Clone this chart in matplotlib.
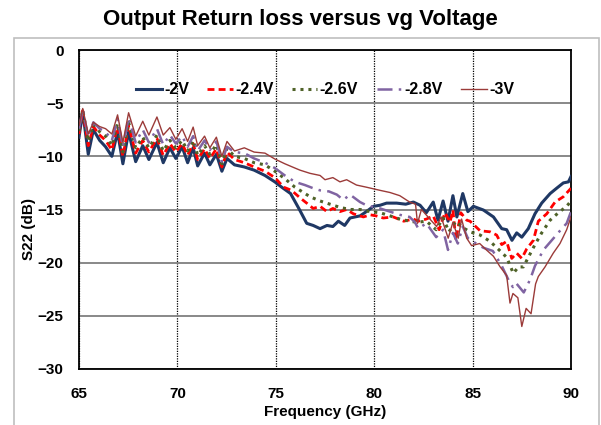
import matplotlib
matplotlib.use("Agg")
import matplotlib.pyplot as plt
from matplotlib.patches import Rectangle

plt.rcParams['font.family'] = ['Liberation Sans', 'DejaVu Sans']
plt.rcParams['font.weight'] = 'bold'

# shared grid for the ripple region 65-75 GHz
f_lo = [65.0, 65.19, 65.47, 65.73, 66.05, 66.35, 66.67, 66.96, 67.23, 67.52,
        67.88, 68.24, 68.55, 68.96, 69.28, 69.62, 69.92, 70.24, 70.52, 70.8,
        71.03, 71.38, 71.65, 71.98, 72.26, 72.52, 72.9, 73.4, 73.9, 74.45, 74.95]

v2_lo = [-8.2, -5.8, -9.8, -7.5, -8.5, -9.1, -10.0, -7.7, -10.7, -7.7,
         -10.5, -9.0, -10.3, -8.7, -10.6, -9.2, -10.2, -9.1, -10.6, -9.2,
         -10.9, -9.7, -10.8, -9.8, -11.4, -10.2, -10.8, -11.0, -11.3, -11.8, -12.4]
v24_lo = [-7.9, -5.7, -9.0, -7.2, -8.0, -8.5, -9.4, -7.2, -10.0, -7.1,
          -9.7, -8.5, -9.6, -8.3, -9.9, -8.8, -9.6, -8.8, -9.9, -8.8,
          -10.3, -9.3, -10.2, -9.3, -11.0, -9.6, -10.3, -10.6, -11.0, -11.4, -12.0]
v26_lo = [-7.6, -5.6, -8.6, -7.0, -7.7, -8.1, -9.0, -6.9, -9.6, -6.8,
          -9.2, -8.2, -9.2, -8.0, -9.5, -8.5, -9.2, -8.5, -9.5, -8.5,
          -9.9, -9.0, -9.8, -8.9, -10.7, -9.25, -10.0, -10.2, -10.6, -10.8, -11.4]
v28_lo = [-7.4, -5.6, -8.2, -6.8, -7.4, -7.7, -8.5, -6.5, -9.1, -6.4,
          -8.7, -7.5, -8.7, -7.4, -8.9, -8.0, -8.8, -8.1, -9.1, -8.1,
          -9.5, -8.5, -9.4, -8.6, -10.5, -9.1, -9.6, -9.7, -10.2, -10.6, -11.1]
v3_lo = [-7.1, -5.5, -7.9, -6.8, -7.2, -7.4, -7.9, -6.1, -8.7, -5.9,
         -8.1, -6.7, -8.0, -6.3, -8.0, -7.3, -8.4, -7.4, -8.6, -7.25,
         -9.0, -8.1, -9.2, -8.2, -10.0, -8.6, -9.5, -9.2, -9.6, -9.7, -10.25]

# 75-90 GHz, each trace read separately
f2_hi = [75.3, 75.75, 76.2, 76.57, 76.9, 77.25, 77.6, 77.9, 78.18, 78.5,
         78.77, 79.28, 79.6, 79.96, 80.3, 80.63, 81.14, 81.6, 81.99, 82.33,
         82.65, 83.0, 83.24, 83.5, 83.75, 84.0, 84.2, 84.5, 84.76, 85.04,
         85.55, 86.06, 86.48, 86.73, 87.0, 87.24, 87.5, 87.83, 88.17, 88.51,
         88.94, 89.27, 89.61, 89.87, 90.0]
v2_hi = [-12.9, -13.5, -15.0, -16.3, -16.5, -16.8, -16.5, -16.6, -16.1, -16.5,
         -15.8, -15.6, -15.2, -14.7, -14.6, -14.4, -14.4, -14.5, -14.3, -14.6,
         -15.3, -14.3, -16.0, -14.2, -16.1, -13.7, -15.7, -13.5, -15.2, -14.7,
         -15.05, -15.7, -16.8, -16.9, -17.9, -17.2, -17.6, -16.8, -15.4, -14.4,
         -13.5, -13.0, -12.5, -12.4, -11.9]

f24_hi = [75.4, 75.8, 76.23, 76.57, 76.9, 77.25, 77.6, 77.9, 78.26, 78.6,
          78.94, 79.45, 79.8, 80.1, 80.46, 80.97, 81.5, 81.99, 82.24, 82.65,
          83.0, 83.3, 83.6, 83.85, 84.0, 84.15, 84.4, 84.7, 84.87, 85.38,
          85.89, 86.22, 86.48, 86.73, 86.99, 87.24, 87.5, 87.75, 88.09, 88.34,
          88.77, 89.19, 89.61, 90.0]
v24_hi = [-12.9, -13.2, -13.9, -14.4, -14.9, -14.7, -15.2, -14.9, -15.2, -15.0,
          -15.4, -15.7, -15.5, -15.6, -15.8, -15.7, -16.1, -15.9, -16.1, -15.9,
          -15.6, -16.9, -15.3, -16.2, -15.05, -17.9, -15.3, -16.0, -16.1, -17.0,
          -17.1, -17.4, -18.3, -18.0, -19.6, -19.1, -19.6, -18.7, -17.9, -16.1,
          -15.4, -14.3, -13.8, -13.0]

f26_hi = [75.46, 75.97, 76.23, 76.74, 77.25, 77.75, 78.26, 78.77, 79.28, 79.8,
          80.3, 80.8, 81.3, 81.8, 82.16, 82.65, 83.15, 83.5, 83.8, 84.15,
          84.5, 84.87, 85.38, 85.89, 86.4, 86.73, 87.07, 87.33, 87.58, 87.83,
          88.17, 88.51, 88.94, 89.36, 89.78, 90.0]
v26_hi = [-12.1, -12.9, -13.2, -13.8, -14.2, -14.5, -14.8, -15.0, -15.0, -15.2,
          -15.3, -15.6, -15.9, -16.1, -16.2, -16.1, -16.9, -15.8, -17.1, -16.1,
          -16.7, -17.1, -17.4, -18.0, -18.9, -19.5, -21.0, -20.4, -20.4, -19.5,
          -18.3, -17.2, -16.0, -15.3, -14.7, -14.2]

f28_hi = [75.46, 75.97, 76.48, 76.9, 77.25, 77.7, 78.1, 78.43, 78.77, 79.28,
          79.6, 80.3, 80.8, 81.3, 81.8, 82.07, 82.24, 82.65, 83.15, 83.5,
          83.75, 84.0, 84.25, 84.5, 84.76, 85.18, 85.55, 86.03, 86.48, 86.87,
          87.05, 87.2, 87.6, 87.92, 88.17, 88.6, 89.02, 89.44, 89.78, 90.0]
v28_hi = [-11.8, -12.4, -12.7, -13.0, -13.2, -13.3, -13.6, -14.1, -13.6, -14.3,
          -14.6, -14.9, -15.2, -15.5, -15.7, -16.2, -16.8, -16.3, -17.6, -16.9,
          -18.8, -17.2, -18.2, -16.6, -17.7, -18.2, -18.6, -18.9, -20.3, -21.8,
          -22.3, -21.9, -22.8, -21.6, -20.3, -18.8, -17.9, -17.0, -16.3, -15.2]

f3_hi = [75.46, 75.97, 76.23, 76.74, 77.25, 77.5, 77.9, 78.26, 78.6, 79.1,
         79.6, 80.3, 80.8, 81.3, 81.8, 82.1, 82.2, 82.4, 82.83, 83.17,
         83.4, 83.76, 84.0, 84.27, 84.44, 84.7, 84.95, 85.36, 85.7, 86.06,
         86.4, 86.73, 86.9, 87.05, 87.3, 87.5, 87.72, 87.97, 88.2, 88.34,
         88.68, 89.1, 89.44, 89.78, 90.0]
v3_hi = [-10.7, -11.1, -11.3, -11.6, -11.8, -12.2, -12.0, -12.4, -12.2, -12.7,
         -12.9, -13.2, -13.4, -13.7, -14.3, -14.5, -16.3, -15.0, -15.9, -16.6,
         -15.7, -17.7, -16.2, -17.7, -15.9, -17.7, -18.4, -18.2, -18.8, -19.4,
         -20.4, -21.2, -23.8, -22.9, -23.3, -26.0, -24.3, -24.8, -22.0, -21.3,
         -20.4, -19.1, -18.2, -16.9, -15.7]

labels = ["-2V", "-2.4V", "-2.6V", "-2.8V", "-3V"]
freqs = [f_lo + f2_hi, f_lo + f24_hi, f_lo + f26_hi, f_lo + f28_hi, f_lo + f3_hi]
values = [v2_lo + v2_hi, v24_lo + v24_hi, v26_lo + v26_hi, v28_lo + v28_hi, v3_lo + v3_hi]
colors = ["#1F3864", "#FF0000", "#4F6228", "#8064A2", "#9B3B39"]
styles = [dict(ls="-", lw=2.2),
          dict(ls=(0, (2.5, 1.5)), lw=2.0),
          dict(ls=(0, (1, 1.6)), lw=2.2),
          dict(ls=(0, (6, 2.5, 1, 2.5)), lw=1.8),
          dict(ls="-", lw=1.0)]

fig = plt.figure(figsize=(6.01, 4.25), dpi=100)
ax = fig.add_axes([79/601, 56/425, 492/601, 319/425])

# chart-area border
fig.patches.append(Rectangle((14/601, -0.01), 585/601, 1 - 38/425 + 0.01,
                             transform=fig.transFigure, fill=False,
                             edgecolor="#BFBFBF", lw=1.2))

for f, v, c, s, lab in zip(freqs, values, colors, styles, labels):
    ax.plot(f, v, color=c, label=lab, zorder=3, **s)

ax.set_xlim(65, 90)
ax.set_ylim(-30, 0)
ax.set_xticks(range(65, 91, 5))
ax.set_yticks(range(-30, 1, 5))
ax.tick_params(length=0, labelsize=11)
ax.tick_params(axis="y", pad=11)
ax.tick_params(axis="x", pad=13)
for lbl in ax.get_xticklabels() + ax.get_yticklabels():
    lbl.set_fontweight("bold")

ax.yaxis.grid(True, color="#7F7F7F", lw=1.3, ls="-")
ax.xaxis.grid(True, color="black", lw=0.9, ls=(0, (1, 1)))
ax.set_axisbelow(True)
for sp in ax.spines.values():
    sp.set_color("black")
    sp.set_linewidth(1.3)

ax.set_xlabel("Frequency (GHz)", fontsize=11, fontweight="bold", labelpad=3)
ax.set_ylabel("S22 (dB)", fontsize=11, fontweight="bold")
ax.yaxis.set_label_coords(-0.088, 0.44)

fig.suptitle("Output Return loss versus vg Voltage", x=0.5, y=0.98,
             fontsize=16, fontweight="bold")

ax.legend(loc="center", bbox_to_anchor=(0.5, 0.875), ncol=5, frameon=False,
          handlelength=1.6, handletextpad=0.15, columnspacing=1.15,
          prop={"weight": "bold", "size": 11.5})

fig.savefig("out.png", dpi=100)
